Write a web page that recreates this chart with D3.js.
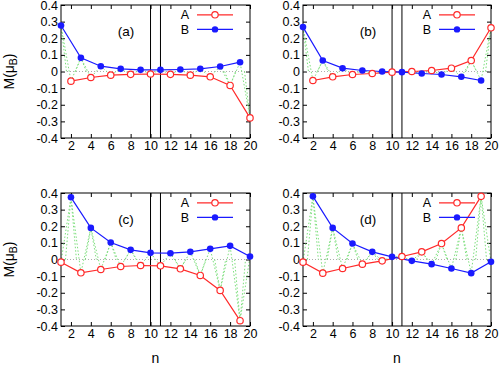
<!DOCTYPE html>
<html><head><meta charset="utf-8">
<script src="https://cdn.jsdelivr.net/npm/d3@7"></script>
<style>body{margin:0;background:#fff}svg{display:block}text{font-family:"Liberation Sans",Arial,Helvetica,sans-serif}</style>
</head><body>
<svg id="c" width="500" height="365"></svg>
<script>
const panelLabels = ["(a)", "(b)", "(c)", "(d)"];
const xTicks = [2, 4, 6, 8, 10, 12, 14, 16, 18, 20];
const yTicks = [-0.4, -0.3, -0.2, -0.1, 0, 0.1, 0.2, 0.3, 0.4];
const evenN = [2, 4, 6, 8, 10, 12, 14, 16, 18, 20];
const oddN = [1, 3, 5, 7, 9, 11, 13, 15, 17, 19];
const boundaryN = [10, 11];
const seriesNames = ["A", "B"];

const A_a = [-0.058, -0.036, -0.022, -0.017, -0.015, -0.017, -0.022, -0.032, -0.084, -0.279];
const B_a = [0.277, 0.082, 0.032, 0.016, 0.010, 0.010, 0.012, 0.016, 0.030, 0.056];
const A_b = [-0.054, -0.032, -0.018, -0.012, -0.004, 0.000, 0.006, 0.020, 0.066, 0.263];
const B_b = [0.267, 0.066, 0.020, 0.006, 0.000, -0.004, -0.012, -0.018, -0.032, -0.054];
const A_c = [-0.016, -0.080, -0.060, -0.042, -0.036, -0.038, -0.056, -0.096, -0.186, -0.368];
const B_c = [0.374, 0.190, 0.102, 0.058, 0.040, 0.038, 0.046, 0.064, 0.082, 0.018];
const A_d = [-0.016, -0.082, -0.054, -0.028, -0.008, 0.018, 0.046, 0.096, 0.190, 0.380];
const B_d = [0.380, 0.190, 0.096, 0.046, 0.016, -0.008, -0.028, -0.054, -0.082, -0.014];

const panels = [
  {label: panelLabels[0], aN: evenN, A: A_a, bN: oddN, B: B_a, xr: [61, 250], yr: [138, 5], ylab: true, xlab: false},
  {label: panelLabels[1], aN: evenN, A: A_b, bN: oddN, B: B_b, xr: [303, 491], yr: [138, 5], ylab: false, xlab: false},
  {label: panelLabels[2], aN: oddN, A: A_c, bN: evenN, B: B_c, xr: [61, 250], yr: [326, 193], ylab: true, xlab: true},
  {label: panelLabels[3], aN: oddN, A: A_d, bN: evenN, B: B_d, xr: [303, 491], yr: [326, 193], ylab: false, xlab: true}
];

const RED = "#ff2a2a", BLUE = "#1a1aff", GREEN = "#7ddf7d";
const svg = d3.select("#c");
const fmt = d => (Math.abs(d) < 1e-9 ? "0" : d.toFixed(1));

panels.forEach((p, i) => {
  const x = d3.scaleLinear().domain([1, 20]).range(p.xr);
  const y = d3.scaleLinear().domain([-0.4, 0.4]).range(p.yr);
  const g = svg.append("g");
  const cid = "clip" + i;
  g.append("clipPath").attr("id", cid).append("rect")
    .attr("x", p.xr[0]).attr("y", p.yr[1]).attr("width", p.xr[1] - p.xr[0]).attr("height", p.yr[0] - p.yr[1]);

  // axes
  const axL = g.append("g").attr("transform", `translate(${p.xr[0]},0)`)
    .call(d3.axisLeft(y).tickValues(yTicks).tickSize(-4).tickPadding(3).tickFormat(fmt));
  const axR = g.append("g").attr("transform", `translate(${p.xr[1]},0)`)
    .call(d3.axisRight(y).tickValues(yTicks).tickSize(-4).tickFormat(""));
  const axB = g.append("g").attr("transform", `translate(0,${p.yr[0]})`)
    .call(d3.axisBottom(x).tickValues(xTicks).tickSize(-4).tickPadding(3).tickFormat(d3.format("d")));
  const axT = g.append("g").attr("transform", `translate(0,${p.yr[1]})`)
    .call(d3.axisTop(x).tickValues(xTicks).tickSize(-4).tickFormat(""));
  [axL, axR, axB, axT].forEach(a => {
    a.select(".domain").remove();
    a.selectAll("text").attr("font-size", 12.5).attr("fill", "#000")
      .attr("font-family", "'Liberation Sans',Arial,sans-serif");
    a.selectAll("line").attr("stroke", "#000");
  });

  // zero line
  g.append("line").attr("x1", p.xr[0]).attr("x2", p.xr[1]).attr("y1", y(0)).attr("y2", y(0))
    .attr("stroke", "#999").attr("stroke-width", 0.8).attr("stroke-dasharray", "1,2");

  // combined chain (green dotted)
  const all = [];
  p.aN.forEach((n, k) => all.push([n, p.A[k]]));
  p.bN.forEach((n, k) => all.push([n, p.B[k]]));
  all.sort((a, b) => a[0] - b[0]);
  const line = d3.line().x(d => x(d[0])).y(d => y(d[1]));
  const gc = g.append("g").attr("clip-path", `url(#${cid})`);
  gc.append("path").attr("d", line(all)).attr("fill", "none").attr("stroke", GREEN)
    .attr("stroke-width", 1).attr("stroke-dasharray", "1.5,2");
  // short dips to zero beside the larger-magnitude sites
  all.forEach((d, k) => {
    const prev = all[k - 1], next = all[k + 1];
    const big = (!prev || Math.abs(d[1]) > Math.abs(prev[1])) && (!next || Math.abs(d[1]) > Math.abs(next[1]));
    if (big && Math.abs(d[1]) > 0.04) {
      gc.append("path").attr("d", line([[d[0] - 0.55, 0], d, [d[0] + 0.55, 0]]))
        .attr("fill", "none").attr("stroke", GREEN).attr("stroke-width", 1).attr("stroke-dasharray", "1.5,2");
    }
  });

  // boundary lines
  boundaryN.forEach(n => {
    g.append("line").attr("x1", x(n)).attr("x2", x(n)).attr("y1", p.yr[0]).attr("y2", p.yr[1])
      .attr("stroke", "#000").attr("stroke-width", 1);
  });

  // frame
  g.append("rect").attr("x", p.xr[0]).attr("y", p.yr[1]).attr("width", p.xr[1] - p.xr[0])
    .attr("height", p.yr[0] - p.yr[1]).attr("fill", "none").attr("stroke", "#000").attr("stroke-width", 1);

  // series
  const aPts = p.aN.map((n, k) => [n, p.A[k]]);
  const bPts = p.bN.map((n, k) => [n, p.B[k]]);
  g.append("path").attr("d", line(aPts)).attr("fill", "none").attr("stroke", RED).attr("stroke-width", 1.2);
  g.append("path").attr("d", line(bPts)).attr("fill", "none").attr("stroke", BLUE).attr("stroke-width", 1.2);
  g.selectAll(null).data(aPts).enter().append("circle")
    .attr("cx", d => x(d[0])).attr("cy", d => y(d[1])).attr("r", 3.2)
    .attr("fill", "#fff").attr("stroke", RED).attr("stroke-width", 1.2);
  g.selectAll(null).data(bPts).enter().append("circle")
    .attr("cx", d => x(d[0])).attr("cy", d => y(d[1])).attr("r", 3.3).attr("fill", BLUE);

  // legend
  const x0 = p.xr[0], y0 = p.yr[1];
  const lg = [[seriesNames[0], RED, true], [seriesNames[1], BLUE, false]];
  lg.forEach((L, k) => {
    const ly = y0 + 9.8 + k * 14.6;
    g.append("text").attr("x", x0 + 128).attr("y", ly + 4.6).attr("text-anchor", "end")
      .attr("font-size", 12.5).text(L[0]);
    g.append("line").attr("x1", x0 + 136).attr("x2", x0 + 172).attr("y1", ly).attr("y2", ly)
      .attr("stroke", L[1]).attr("stroke-width", 1.3);
    g.append("circle").attr("cx", x0 + 154).attr("cy", ly).attr("r", 3.2)
      .attr("fill", L[2] ? "#fff" : L[1]).attr("stroke", L[1]).attr("stroke-width", L[2] ? 1.2 : 0);
  });

  // panel label
  g.append("text").attr("x", x0 + 65).attr("y", y0 + 31).attr("text-anchor", "middle")
    .attr("font-size", 13.5).text(p.label);

  if (p.ylab) {
    const t = g.append("text").attr("transform", `translate(14,${(p.yr[0] + p.yr[1]) / 2}) rotate(-90)`)
      .attr("text-anchor", "middle").attr("font-size", 14);
    t.append("tspan").text("M(μ");
    t.append("tspan").attr("font-size", 10.5).attr("dy", 3).text("B");
    t.append("tspan").attr("dy", -3).text(")");
  }
  if (p.xlab) {
    g.append("text").attr("x", (p.xr[0] + p.xr[1]) / 2).attr("y", 363).attr("text-anchor", "middle")
      .attr("font-size", 14).text("n");
  }
});
</script>
</body></html>
